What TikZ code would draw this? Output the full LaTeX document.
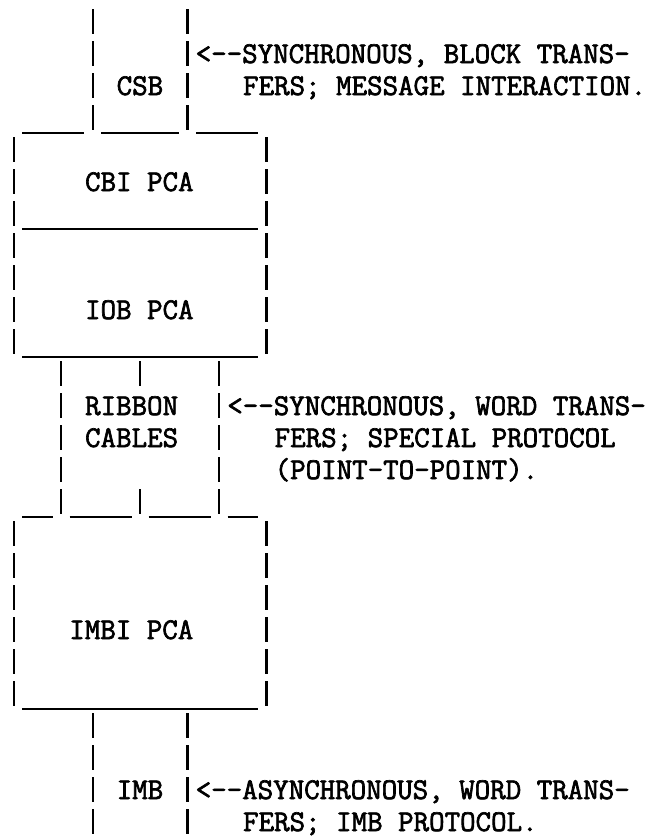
\documentclass[tikz,border=0pt]{standalone}
\usepackage{fontspec}
\newfontfamily\tw{Latin Modern Mono}[FakeBold=2.2]
\newcommand\colL[1]{15.8*(#1)-9.9}
\newcommand\colC[1]{15.8*(#1)-2}
\newcommand\rowC[1]{32*(#1)-10}
\newcommand\tbar[2]{\draw[barline] ({\colC{#1}},{\rowC{#2}-13}) -- ({\colC{#1}},{\rowC{#2}+12});}
\newcommand\tul[3]{\draw[uline] ({\colL{#1}+0.5},{\rowC{#3}+15}) -- ({\colL{#2}+15.3},{\rowC{#3}+15});}
\tikzset{
  barline/.style={line width=2.5pt, line cap=butt},
  uline/.style={line width=2.6pt, line cap=butt},
  txt/.style={anchor=base west, inner sep=0pt, font=\tw\fontsize{30.1}{36}\selectfont},
}
\begin{document}
\begin{tikzpicture}[x=1pt,y=-1pt]
\useasboundingbox (0,0) rectangle (655,838);
% CSB bus (rows 1-4)
\foreach \r in {1,...,4}{\tbar{6}{\r}\tbar{12}{\r}}
\node[txt] (csb) at ({\colL{8}},{\rowC{3}+9}) {CSB};
\node[txt] (csbnote1) at ({\colL{13}},{\rowC{2}+9}) {<-\kern0pt-\kern0pt SYNCHRONOUS, BLOCK TRANS-};
\node[txt] (csbnote2) at ({\colL{16}},{\rowC{3}+9}) {FERS; MESSAGE INTERACTION.};
\tul{2}{5}{4}\tul{7}{11}{4}\tul{13}{16}{4}
% CBI PCA (rows 5-7)
\foreach \r in {5,...,7}{\tbar{1}{\r}\tbar{17}{\r}}
\node[txt] (cbi) at ({\colL{6}},{\rowC{6}+9}) {CBI PCA};
\tul{2}{16}{7}
% IOB PCA (rows 8-11)
\foreach \r in {8,...,11}{\tbar{1}{\r}\tbar{17}{\r}}
\node[txt] (iob) at ({\colL{6}},{\rowC{10}+9}) {IOB PCA};
\tul{2}{16}{11}
% Ribbon cables (rows 12-16)
\foreach \r in {12,...,16}{\tbar{4}{\r}\tbar{14}{\r}}
\tbar{9}{12}\tbar{9}{16}
\node[txt] (ribbon) at ({\colL{6}},{\rowC{13}+9}) {RIBBON};
\node[txt] (cables) at ({\colL{6}},{\rowC{14}+9}) {CABLES};
\node[txt] (ribnote1) at ({\colL{15}},{\rowC{13}+9}) {<-\kern0pt-\kern0pt SYNCHRONOUS, WORD TRANS-};
\node[txt] (ribnote2) at ({\colL{18}},{\rowC{14}+9}) {FERS; SPECIAL PROTOCOL};
\node[txt] (ribnote3) at ({\colL{18}},{\rowC{15}+9}) {(POINT-TO-POINT).};
\tul{2}{3}{16}\tul{5}{8}{16}\tul{10}{13}{16}\tul{15}{16}{16}
% IMBI PCA (rows 17-22)
\foreach \r in {17,...,22}{\tbar{1}{\r}\tbar{17}{\r}}
\node[txt] (imbi) at ({\colL{5}},{\rowC{20}+9}) {IMBI PCA};
\tul{2}{16}{22}
% IMB bus (rows 23-26)
\foreach \r in {23,...,26}{\tbar{6}{\r}\tbar{12}{\r}}
\node[txt] (imb) at ({\colL{8}},{\rowC{25}+9}) {IMB};
\node[txt] (imbnote1) at ({\colL{13}},{\rowC{25}+9}) {<-\kern0pt-\kern0pt ASYNCHRONOUS, WORD TRANS-};
\node[txt] (imbnote2) at ({\colL{16}},{\rowC{26}+9}) {FERS; IMB PROTOCOL.};
\end{tikzpicture}
\end{document}
